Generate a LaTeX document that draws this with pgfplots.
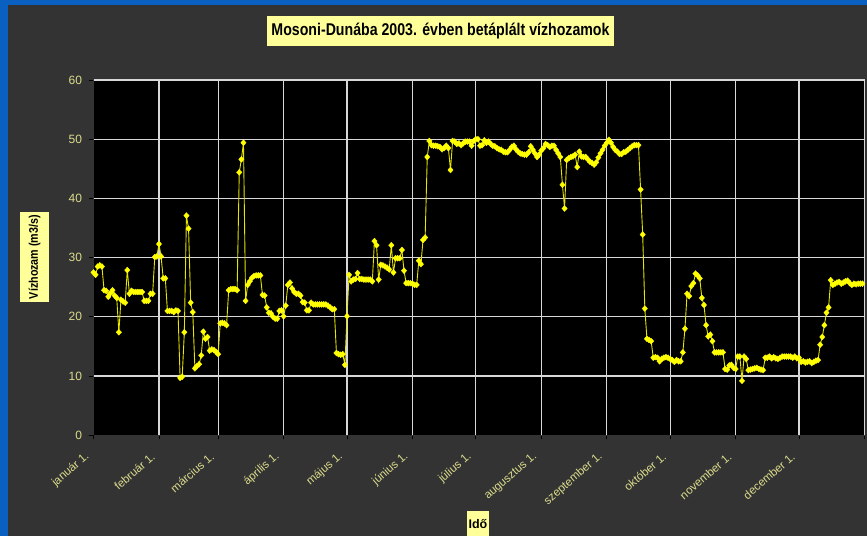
\documentclass[border=0pt]{standalone}
\usepackage{pgfplots}
\pgfplotsset{compat=1.18}
\usepackage{fontspec}
\setmainfont{Liberation Sans}
\usepackage{graphicx}
\definecolor{bgc}{HTML}{333333}
\definecolor{blu}{HTML}{0A60C0}
\definecolor{boxy}{HTML}{FFFF99}
\definecolor{tickc}{HTML}{DCDC8C}
\definecolor{gridc}{HTML}{D8D8D8}
\definecolor{ser}{HTML}{FFFF00}
\begin{document}
\begin{tikzpicture}[x=1pt,y=1pt]
\fill[bgc] (0,0) rectangle (867,536);
\fill[blu] (0,531) rectangle (867,536);
\fill[blu] (0,0) rectangle (7.5,536);
% title
\node[fill=boxy, minimum width=347pt, minimum height=30pt, inner sep=0pt] at (440.5,505)
  {\resizebox{338pt}{\height}{\fontsize{17}{20}\selectfont\bfseries Mosoni-Dunába 2003. évben betáplált vízhozamok}};
% y label
\node[fill=boxy, rotate=90, minimum width=90pt, minimum height=29pt, inner sep=0pt] at (34.5,279)
  {\resizebox{84pt}{\height}{\fontsize{12.5}{14}\selectfont\bfseries Vízhozam (m3/s)}};
% x label
\fill[boxy] (467,0) rectangle (489,25);
\node at (478,12) {\fontsize{12.5}{14}\selectfont\bfseries Idő};
\begin{axis}[
  at={(93.5pt,100.7pt)}, anchor=south west,
  width=771pt, height=355.3pt, scale only axis,
  xmin=0, xmax=365, ymin=0, ymax=60,
  axis background/.style={fill=black},
  axis x line*=bottom, axis y line*=left,
  axis line style={-, draw=black!80, line width=1.5pt},
  xtick={0,31,59,90,120,151,181,212,243,273,304,334,365},
  xticklabels={január 1.,február 1.,március 1.,április 1.,május 1.,június 1.,július 1.,augusztus 1.,szeptember 1.,október 1.,november 1.,december 1.,{}},
  ytick={0,10,20,30,40,50,60},
  grid=major,
  major grid style={draw=gridc, line width=1.2pt},
  tick align=outside, major tick length=4pt,
  tick style={draw=black, line width=0.8pt},
  /pgf/number format/assume math mode=true,
  yticklabel style={font=\fontsize{12}{14}\selectfont, text=tickc, xshift=-4pt},
  xticklabel style={font=\fontsize{11.5}{13}\selectfont, text=tickc, xshift=-5pt, yshift=-15pt, rotate=41, anchor=east, inner sep=1pt},
]
\addplot[color=ser!90!black, line width=0.9pt, mark=diamond*, mark size=3pt, mark options={draw=ser, fill=ser, line width=0.3pt, xscale=1.2}] coordinates {
(0,27.5)(1,27.1)(2,28.5)(3,28.7)(4,28.5)(5,24.5)(6,24.4)(7,23.4)(8,24.0)(9,24.5)
(10,23.6)(11,23.2)(12,17.4)(13,22.9)(14,22.6)(15,22.4)(16,27.9)(17,23.9)(18,24.4)(19,24.2)
(20,24.2)(21,24.2)(22,24.2)(23,24.2)(24,22.7)(25,22.7)(26,22.7)(27,23.9)(28,23.9)(29,30.1)
(30,30.2)(31,32.3)(32,30.2)(33,26.5)(34,26.5)(35,21.0)(36,21.0)(37,21.0)(38,20.8)(39,21.1)
(40,21.0)(41,9.7)(42,9.9)(43,17.4)(44,37.1)(45,34.9)(46,22.4)(47,20.8)(48,11.3)(49,11.7)
(50,12.0)(51,13.5)(52,17.5)(53,16.3)(54,16.6)(55,14.3)(56,14.5)(57,14.4)(58,14.1)(59,13.7)
(60,18.9)(61,19.0)(62,18.9)(63,18.6)(64,24.5)(65,24.7)(66,24.7)(67,24.7)(68,24.5)(69,44.4)
(70,46.6)(71,49.4)(72,22.7)(73,25.4)(74,26.0)(75,26.6)(76,26.9)(77,27.0)(78,27.0)(79,27.0)
(80,23.7)(81,23.6)(82,21.6)(83,20.7)(84,20.6)(85,20.0)(86,19.7)(87,19.7)(88,21.0)(89,21.1)
(90,20.1)(91,21.9)(92,25.4)(93,25.8)(94,24.8)(95,24.2)(96,23.9)(97,23.9)(98,23.6)(99,22.5)
(100,22.4)(101,21.1)(102,21.1)(103,22.4)(104,22.1)(105,22.1)(106,22.1)(107,22.1)(108,22.1)(109,22.1)
(110,22.1)(111,21.9)(112,21.6)(113,21.3)(114,21.3)(115,13.9)(116,13.7)(117,13.6)(118,13.7)(119,11.9)
(120,20.1)(121,27.1)(122,26.0)(123,26.3)(124,26.4)(125,27.4)(126,26.4)(127,26.4)(128,26.3)(129,26.3)
(130,26.3)(131,26.3)(132,26.0)(133,32.8)(134,32.1)(135,26.3)(136,28.8)(137,28.7)(138,28.5)(139,28.3)
(140,28.0)(141,32.1)(142,27.5)(143,29.9)(144,29.9)(145,29.9)(146,31.3)(147,27.8)(148,25.7)(149,25.7)
(150,25.7)(151,25.6)(152,25.4)(153,25.4)(154,29.5)(155,28.9)(156,33.0)(157,33.4)(158,47.0)(159,49.7)
(160,49.0)(161,48.9)(162,48.9)(163,48.8)(164,48.7)(165,48.3)(166,48.5)(167,48.9)(168,48.5)(169,44.8)
(170,49.7)(171,49.6)(172,49.2)(173,49.3)(174,49.0)(175,49.3)(176,49.6)(177,49.6)(178,49.6)(179,48.9)
(180,49.7)(181,50.0)(182,50.0)(183,48.9)(184,49.0)(185,49.8)(186,49.4)(187,49.6)(188,49.2)(189,48.9)
(190,48.8)(191,48.5)(192,48.3)(193,48.2)(194,47.9)(195,47.8)(196,47.8)(197,48.2)(198,48.7)(199,48.9)
(200,48.3)(201,47.9)(202,47.6)(203,47.5)(204,47.4)(205,47.4)(206,47.8)(207,48.8)(208,48.2)(209,47.6)
(210,47.0)(211,47.4)(212,48.1)(213,48.5)(214,49.2)(215,49.0)(216,48.7)(217,48.9)(218,48.9)(219,48.2)
(220,47.6)(221,47.0)(222,42.3)(223,38.3)(224,46.5)(225,46.8)(226,47.0)(227,47.1)(228,47.4)(229,45.3)
(230,47.9)(231,47.1)(232,47.0)(233,47.0)(234,46.6)(235,46.2)(236,46.0)(237,45.7)(238,46.1)(239,46.9)
(240,47.6)(241,48.2)(242,48.9)(243,49.4)(244,49.9)(245,49.4)(246,48.7)(247,48.2)(248,47.9)(249,47.5)
(250,47.5)(251,47.8)(252,47.9)(253,48.2)(254,48.5)(255,48.8)(256,49.0)(257,49.0)(258,49.0)(259,41.5)
(260,33.9)(261,21.4)(262,16.3)(263,16.1)(264,15.9)(265,13.1)(266,13.2)(267,13.1)(268,12.5)(269,12.9)
(270,13.1)(271,13.2)(272,13.1)(273,12.9)(274,12.7)(275,12.4)(276,12.7)(277,12.5)(278,12.5)(279,14.0)
(280,18.0)(281,23.9)(282,23.5)(283,25.2)(284,25.7)(285,27.3)(286,27.0)(287,26.5)(288,23.2)(289,22.0)
(290,18.6)(291,16.7)(292,17.0)(293,15.9)(294,14.0)(295,14.0)(296,14.0)(297,14.0)(298,14.0)(299,11.2)
(300,11.1)(301,11.8)(302,11.9)(303,11.4)(304,11.2)(305,13.3)(306,13.3)(307,9.2)(308,13.3)(309,12.9)
(310,11.0)(311,11.1)(312,11.2)(313,11.3)(314,11.4)(315,11.2)(316,11.1)(317,11.0)(318,13.1)(319,13.1)
(320,13.3)(321,13.0)(322,13.2)(323,13.0)(324,12.9)(325,13.1)(326,13.3)(327,13.3)(328,13.3)(329,13.3)
(330,13.3)(331,13.1)(332,13.3)(333,13.0)(334,13.1)(335,12.4)(336,12.5)(337,12.3)(338,12.4)(339,12.5)
(340,12.2)(341,12.4)(342,12.6)(343,12.7)(344,15.3)(345,16.6)(346,18.6)(347,20.7)(348,21.6)(349,26.2)
(350,25.4)(351,25.6)(352,25.8)(353,25.9)(354,25.6)(355,25.8)(356,26.0)(357,26.1)(358,25.7)(359,25.4)
(360,25.6)(361,25.5)(362,25.6)(363,25.6)(364,25.6)
};
\end{axis}
\pgfresetboundingbox
\path[use as bounding box] (0,0) rectangle (867,536);
\end{tikzpicture}
\end{document}
